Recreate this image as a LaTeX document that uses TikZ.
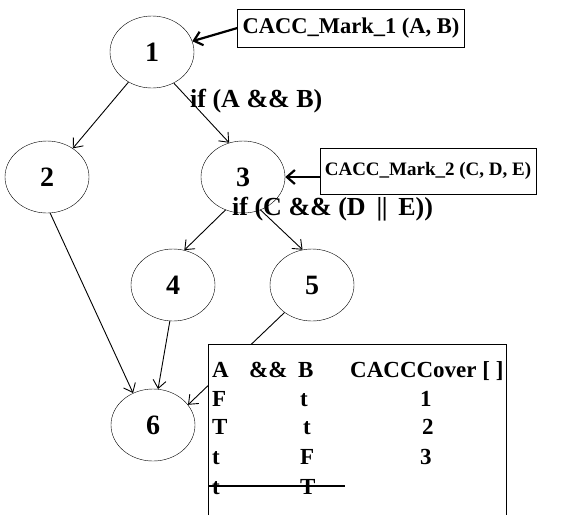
\documentclass[tikz,border=0pt]{standalone}
\usepackage{fontspec}
\setmainfont{Liberation Serif}
\usetikzlibrary{arrows.meta,shapes.geometric}

\tikzset{
  state/.style={draw,ellipse,inner sep=0pt,minimum width=84pt,minimum height=72pt,
    font=\fontsize{28}{30}\selectfont\bfseries},
  markbox/.style={draw,rectangle,inner sep=5pt,minimum height=38pt,
    font=\fontsize{22.5}{24}\selectfont\bfseries},
  cell/.style={inner sep=0pt,anchor=base west,font=\fontsize{23}{25}\selectfont\bfseries},
  cond/.style={inner sep=0pt,anchor=base west,font=\fontsize{26}{28}\selectfont\bfseries},
  flow/.style={-{Straight Barb[length=8pt,width=13pt]},line width=0.9pt},
  markarrow/.style={-{Straight Barb[length=8pt,width=14pt]},line width=2.2pt}
}

\begin{document}
\begin{tikzpicture}[x=1pt,y=-1pt]
\useasboundingbox (0,0) rectangle (577,515);

% flow graph
\node[state] (n1) at (152,52) {1};
\node[state] (n2) at (47,177) {2};
\node[state] (n3) at (243,177) {3};
\node[state] (n4) at (173,285) {4};
\node[state] (n5) at (312,285) {5};
\node[state] (n6) at (153,425) {6};

\draw[flow] (n1.-128) -- (n2.48);
\draw[flow] (n1.-55) -- (n3.112);
\draw[flow] (n3.-118) -- (n4.72);
\draw[flow] (n3.-62) -- (n5.105);
\draw[flow] (n2.-85) -- (n6.122);
\draw[flow] (n4.-95) -- (n6.82);
\draw[flow] (n5.-135) -- (n6.30);

% branch conditions
\node[cond] (cond1) at (190,107) {if (A \&\& B)};
\node[cond] (cond2) at (232,215) {if (C \&\& (D \,|\kern-0.5pt|\, E))};

% marker boxes
\node[markbox] (mark1) at (351,28) {CACC\_Mark\_1 (A, B)};
\node[markbox,minimum height=46pt,font=\fontsize{19}{22}\selectfont\bfseries]
  (mark2) at (428,171) {CACC\_Mark\_2 (C, D, E)};
\draw[markarrow] (mark1.west) -- (n1.15);
\draw[markarrow] (mark2.west) ++(0,6) -- (n3.east);

% coverage table
\draw[fill=white] (208,515) |- (506,344) -- (506,515);
\node[cell] (hA) at (212,377) {A};
\node[cell] (hAnd) at (249,377) {\&\&};
\node[cell] (hB) at (298,377) {B};
\node[cell] (hCover) at (350,377) {CACCCover [ ]};
\node[cell] (r1a) at (212,406) {F};
\node[cell] (r1b) at (300,406) {t};
\node[cell] (r1c) at (420,406) {1};
\node[cell] (r2a) at (212,434) {T};
\node[cell] (r2b) at (303,434) {t};
\node[cell] (r2c) at (422,434) {2};
\node[cell] (r3a) at (212,464) {t};
\node[cell] (r3b) at (300,464) {F};
\node[cell] (r3c) at (420,464) {3};
\node[cell] (r4a) at (212,494) {t};
\node[cell] (r4b) at (300,494) {T};
\draw[line width=1.2pt] (209,486) -- (345,486);
\end{tikzpicture}
\end{document}
